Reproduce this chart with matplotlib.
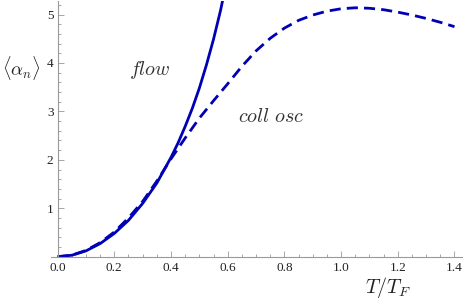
import matplotlib
matplotlib.use("Agg")
import matplotlib.pyplot as plt
from matplotlib.ticker import MultipleLocator, FixedLocator

plt.rcParams['mathtext.fontset'] = 'cm'

# data
flow_T = [0, 0.05, 0.1, 0.15, 0.2, 0.25, 0.3, 0.35, 0.4, 0.425, 0.45, 0.475, 0.5,
          0.525, 0.55, 0.575, 0.6]
flow_y = [0, 0.03, 0.12, 0.27, 0.48, 0.75, 1.10, 1.52, 2.05, 2.35, 2.69, 3.06, 3.48,
          3.96, 4.49, 5.09, 5.8]

osc_T = [0, 0.05, 0.1, 0.15, 0.2, 0.25, 0.3, 0.35, 0.4, 0.45, 0.5, 0.55, 0.6, 0.65,
         0.7, 0.75, 0.8, 0.85, 0.9, 0.95, 1.0, 1.05, 1.1, 1.15, 1.2, 1.25, 1.3, 1.35, 1.4]
osc_y = [0, 0.03, 0.13, 0.29, 0.51, 0.80, 1.14, 1.56, 2.02, 2.45, 2.86, 3.22, 3.57, 3.93,
         4.25, 4.51, 4.72, 4.88, 4.99, 5.07, 5.12, 5.14, 5.13, 5.10, 5.05, 4.99, 4.92, 4.84, 4.75]

x_ticks = [0.0, 0.2, 0.4, 0.6, 0.8, 1.0, 1.2, 1.4]
x_ticklabels = ["0.0", "0.2", "0.4", "0.6", "0.8", "1.0", "1.2", "1.4"]
y_ticks = [1, 2, 3, 4, 5]
y_ticklabels = ["1", "2", "3", "4", "5"]

W, H = 463, 300
fig = plt.figure(figsize=(W / 100, H / 100), dpi=100)
x0px, y0px = 50.5, 256.7  # left edge of axes, y=0 row
ax = fig.add_axes([x0px / W, (H - y0px) / H, (W - x0px) / W, (y0px - 1) / H])
ax.set_xlim(-0.025, 1.43)
ax.set_ylim(0, 5.28)

col = '#0000b4'
ax.plot(flow_T, flow_y, color=col, lw=2.0, solid_capstyle='butt', solid_joinstyle='round')
ax.plot(osc_T, osc_y, color=col, lw=2.0, dashes=(4, 2.2))

axcol = '#999999'
for s in ['top', 'right']:
    ax.spines[s].set_visible(False)
ax.spines['left'].set_position(('data', 0))
ax.spines['bottom'].set_position(('data', 0))
ax.spines['left'].set_color(axcol)
ax.spines['bottom'].set_color(axcol)
ax.spines['left'].set_linewidth(0.8)
ax.spines['bottom'].set_linewidth(0.8)

ax.xaxis.set_major_locator(FixedLocator(x_ticks))
ax.set_xticklabels(x_ticklabels)
ax.xaxis.set_minor_locator(MultipleLocator(0.05))
ax.yaxis.set_major_locator(FixedLocator(y_ticks))
ax.set_yticklabels(y_ticklabels)
ax.yaxis.set_minor_locator(MultipleLocator(0.2))

ax.tick_params(which='both', direction='in', color=axcol, width=0.6,
               labelsize=9.5, labelcolor='#222222')
ax.tick_params(axis='x', pad=3.5)
ax.tick_params(axis='y', pad=3)
ax.tick_params(which='major', length=4)
ax.tick_params(which='minor', length=2.2)
for lab in ax.get_xticklabels() + ax.get_yticklabels():
    lab.set_fontfamily('Liberation Serif')

fig.text(21 / W, 1 - 68 / H, r'$\langle\alpha_n\rangle$', fontsize=13.5,
         ha='center', va='center', color='#222222')
fig.text(388 / W, 1 - 288 / H, r'$T/T_F$', fontsize=14.5,
         ha='center', va='center', color='#222222')
ax.text(0.326, 3.86, r'$flow$', fontsize=14.5, color='#333333', ha='center', va='center')
ax.text(0.752, 2.9, r'$coll\ osc$', fontsize=14.5, color='#333333', ha='center', va='center')

fig.savefig('out.png', dpi=100)
